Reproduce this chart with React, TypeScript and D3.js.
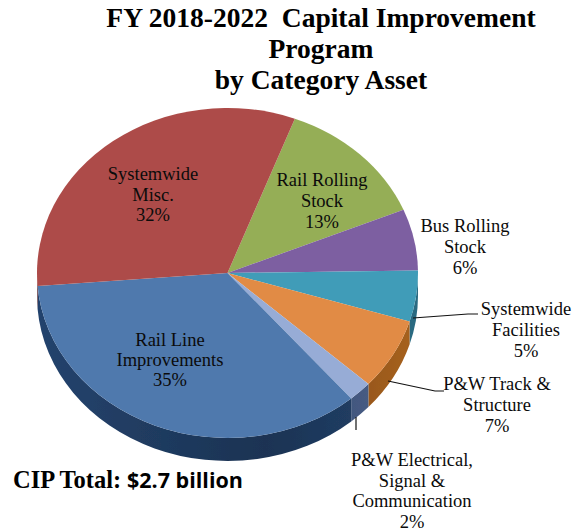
import React from "react";
import * as d3 from "d3";

const categories = [
  "Rail Rolling Stock",
  "Bus Rolling Stock",
  "Systemwide Facilities",
  "P&W Track & Structure",
  "P&W Electrical, Signal & Communication",
  "Rail Line Improvements",
  "Systemwide Misc.",
];
const shares = [13, 6, 5, 7, 2, 35, 32];
const topColors = ["#95ae56", "#7d5ea1", "#3f9cb8", "#e18b44", "#97acd6", "#4f79ad", "#ad4c48"];
const sideDark = ["#5a6a32", "#4a3763", "#1f5468", "#7a4413", "#33486e", "#1b3353", "#6a2c2a"];
const sideLight = ["#5a6a32", "#4a3763", "#2a6b82", "#a8621f", "#4f648c", "#24436d", "#6a2c2a"];
const titleLines = ["FY 2018-2022  Capital Improvement", "Program", "by Category Asset"];

const labelLines = [
  ["Rail Rolling", "Stock", "13%"],
  ["Bus Rolling", "Stock", "6%"],
  ["Systemwide", "Facilities", "5%"],
  ["P&W Track &", "Structure", "7%"],
  ["P&W Electrical,", "Signal &", "Communication", "2%"],
  ["Rail Line", "Improvements", "35%"],
  ["Systemwide", "Misc.", "32%"],
];

// layout
const cx = 227.5;
const cy = 273;
const rx = 190.5;
const ry = 165;
const depth = 23;
const firstAngle = (20.7 * Math.PI) / 180;
const labelAt = [
  [322, 186, 21],
  [465, 232, 21],
  [526, 315, 21],
  [497, 390, 21],
  [412, 466, 20.7],
  [170, 346, 20],
  [153, 180, 20.5],
];
const leaders = [
  { slice: 2, pts: [[413, 318], [468, 314], [478, 314]] },
  { slice: 3, pts: [[388, 381], [435, 391], [444, 391]] },
  { slice: 4, pts: [[356, 417], [356, 430]] },
];

const serif = "'Liberation Serif', serif";
const yScale = ry / rx;

export default function App() {
  const pie = d3
    .pie<number>()
    .sort(null)
    .startAngle(firstAngle)
    .endAngle(firstAngle + 2 * Math.PI);
  const slices = pie(shares);
  const arc = d3.arc<d3.PieArcDatum<number>>().innerRadius(0).outerRadius(rx);
  const line = d3.line();

  // wall of the disc: only the part of each slice facing the viewer
  const wall = (a0: number, a1: number) => {
    const from = Math.max(a0, Math.PI / 2) - Math.PI / 2;
    const to = Math.min(a1, (3 * Math.PI) / 2) - Math.PI / 2;
    if (to <= from) return null;
    const p = d3.path();
    p.arc(0, 0, rx, from, to);
    p.arc(0, depth / yScale, rx, to, from, true);
    p.closePath();
    return p.toString();
  };

  return (
    <svg
      width={576}
      height={531}
      style={{ position: "absolute", left: 0, top: 0, display: "block", background: "#fff" }}
    >
      <defs>
        {slices.map((s, i) => (
          <linearGradient id={`side${i}`} key={i} gradientUnits="userSpaceOnUse" x1={-rx} x2={rx} y1={0} y2={0}>
            <stop offset="0%" stopColor={sideLight[i]} />
            <stop offset="60%" stopColor={sideDark[i]} />
            <stop offset="100%" stopColor={sideLight[i]} />
          </linearGradient>
        ))}
        <filter id="soft" x="-5%" y="-5%" width="110%" height="110%">
          <feGaussianBlur stdDeviation="0.5" />
        </filter>
      </defs>

      <g filter="url(#soft)">
        <g transform={`translate(${cx},${cy}) scale(1,${yScale})`}>
          {slices.map((s, i) => {
            const d = wall(s.startAngle, s.endAngle);
            const d2 = wall(s.startAngle - 2 * Math.PI, s.endAngle - 2 * Math.PI);
            return <path key={i} d={d || d2 || ""} fill={`url(#side${i})`} />;
          })}
          {slices.map((s, i) => (
            <path key={categories[i]} d={arc(s) || ""} fill={topColors[i]} />
          ))}
        </g>
      </g>

      {leaders.map((l) => (
        <path
          key={l.slice}
          d={line(l.pts as [number, number][]) || ""}
          fill="none"
          stroke="#111"
          strokeWidth={1.2}
        />
      ))}

      <g fontFamily={serif} fontWeight="bold" fontSize={27.5} fill="#000" textAnchor="middle">
        {titleLines.map((t, i) => (
          <text key={t} x={321} y={27 + i * 31} xmlSpace="preserve" style={{ whiteSpace: "pre" }}>
            {t}
          </text>
        ))}
      </g>

      <g fontFamily={serif} fontSize={18.5} fill="#0b0b0b" textAnchor="middle">
        {labelLines.map((lines, i) =>
          lines.map((t, j) => (
            <text key={t + i} x={labelAt[i][0]} y={labelAt[i][1] + j * labelAt[i][2]}>
              {t}
            </text>
          ))
        )}
      </g>

      <text x={13} y={488} fontSize={24.5} fontWeight="bold" fill="#000" fontFamily={serif}>
        CIP Total:
        <tspan x={127} fontFamily="'Open Sans', sans-serif" fontSize={21.5}>
          $2.7 billion
        </tspan>
      </text>
    </svg>
  );
}
